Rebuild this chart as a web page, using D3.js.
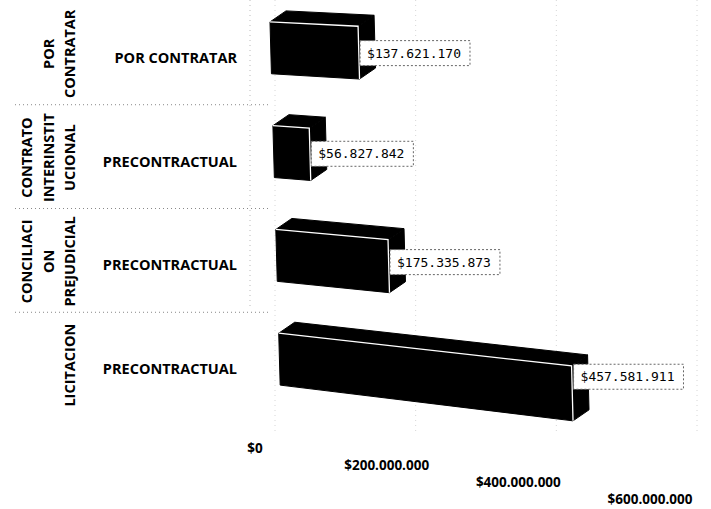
<!DOCTYPE html>
<html>
<head>
<meta charset="utf-8">
<script src="https://cdn.jsdelivr.net/npm/d3@7"></script>
<style>
body { margin: 0; background: #fff; }
text { font-family: "Open Sans", sans-serif; font-weight: bold; fill: #000; }
.val { font-family: "DejaVu Sans Mono", monospace; font-weight: normal; font-size: 13px; }
</style>
</head>
<body>
<div id="chart"></div>
<script>
// data
const groupLines = [
    ["POR", "CONTRATAR"],
    ["CONTRATO", "INTERINSTIT", "UCIONAL"],
    ["CONCILIACI", "ON", "PREJUDICIAL"],
    ["LICITACION"]
];
const categories = ["POR CONTRATAR", "PRECONTRACTUAL", "PRECONTRACTUAL", "PRECONTRACTUAL"];
const values = [137621170, 56827842, 175335873, 457581911];
const tickValues = [0, 200000000, 400000000, 600000000];

const w = 711,
      h = 509;

const svg = d3.select("#chart")
    .append("svg")
    .attr("width", w)
    .attr("height", h);

const y = d3.scaleBand()
    .domain(d3.range(values.length))
    .range([-30, 437])
    .padding(0.5);

const x = d3.scaleLinear().domain([0, 600000000]).range([0, 384]);
const xLabel = d3.scaleLinear().domain([0, 600000000]).range([255, 650]);
const xDrop = d3.scaleLinear().domain([0, 600000000]).range([0, 51]);
const xGrid = d3.scaleLinear().domain([0, 600000000]).range([275, 697]);

const fmt = d3.formatLocale({decimal: ",", thousands: ".", grouping: [3], currency: ["$", ""]})
    .format("$,.0f");

const depth = {dx: 16, dy: -11};

// rough perspective like the excel 3d bars
function proj(v, yy) {
    let px = x(v);
    return [270 + 0.028 * (yy - 22) + px, yy + px * (0.045 + 0.0002 * yy)];
}
function back(p) {
    return [p[0] + depth.dx, p[1] + depth.dy];
}

// faint grid
svg.append("g")
    .selectAll("line")
    .data(tickValues)
    .enter()
    .append("line")
    .attr("x1", d => xGrid(d))
    .attr("x2", d => xGrid(d))
    .attr("y1", 0)
    .attr("y2", 435)
    .style("stroke", "#d6d6d6")
    .style("stroke-dasharray", "1,4");

svg.append("line")
    .attr("x1", 250).attr("x2", 250)
    .attr("y1", 0).attr("y2", 310)
    .style("stroke", "#bbb")
    .style("stroke-dasharray", "1,4");

const gap = y.step() - y.bandwidth();
svg.append("g")
    .selectAll("line")
    .data(d3.range(1, values.length))
    .enter()
    .append("line")
    .attr("x1", 15)
    .attr("x2", 268)
    .attr("y1", d => y(d) - gap / 2 + 5)
    .attr("y2", d => y(d) - gap / 2 + 5)
    .style("stroke", "#888")
    .style("stroke-dasharray", "1,3");

// bars
const bars = svg.append("g")
    .selectAll("g")
    .data(values)
    .enter()
    .append("g");

bars.each(function(v, i) {
    let g = d3.select(this);
    let top = y(i),
        bot = y(i) + y.bandwidth();
    let a = proj(0, top), b = proj(v, top), c = proj(v, bot), d = proj(0, bot);

    g.append("polygon")
        .attr("points", [a, b, back(b), back(a)].join(" "))
        .style("fill", "#000").style("stroke", "#000");
    g.append("polygon")
        .attr("points", [b, back(b), back(c), c].join(" "))
        .style("fill", "#000").style("stroke", "#000");
    g.append("polygon")
        .attr("points", [a, b, c, d].join(" "))
        .style("fill", "#000").style("stroke", "#000");
    g.append("polyline")
        .attr("points", [a, b, c].join(" "))
        .style("fill", "none")
        .style("stroke", "#fff")
        .style("stroke-width", 1.3);

    // value label
    let lx = b[0] + 2,
        ly = y(i) + y.bandwidth() / 2 + x(v) * 0.06;
    let box = g.append("rect");
    let t = g.append("text")
        .attr("class", "val")
        .attr("x", lx + 7)
        .attr("y", ly)
        .attr("dy", "0.35em")
        .text(fmt(v));
    let tw = t.node().getComputedTextLength();
    box.attr("x", lx)
        .attr("y", ly - 12.5)
        .attr("width", tw + 16)
        .attr("height", 25)
        .style("fill", "#fff")
        .style("stroke", "#666")
        .style("stroke-dasharray", "2,2");
});

// category labels
svg.append("g")
    .selectAll("text")
    .data(categories)
    .enter()
    .append("text")
    .attr("x", 237)
    .attr("y", (d, i) => y(i) + y.bandwidth() / 2 + 10)
    .attr("dy", "0.35em")
    .attr("text-anchor", "end")
    .style("font-size", "14.5px")
    .text(d => d);

// group labels, rotated
const groups = svg.append("g")
    .selectAll("g")
    .data(groupLines)
    .enter()
    .append("g");

groups.each(function(lines, i) {
    let cy = y(i) + y.bandwidth() / 2 + 6;
    d3.select(this).selectAll("text")
        .data(lines)
        .enter()
        .append("text")
        .attr("transform", (d, j) => "translate(" + (70 - (lines.length - 1 - j) * 21.5) + "," + cy + ") rotate(-90)")
        .attr("dy", "0.35em")
        .attr("text-anchor", "middle")
        .style("font-size", "14.5px")
        .text(d => d);
});

// value axis, stepped down along the floor
const axis = d3.axisBottom(xLabel)
    .tickValues(tickValues)
    .tickSize(0)
    .tickFormat(fmt);

const axisGroup = svg.append("g")
    .attr("transform", "translate(0,448)")
    .call(axis);

axisGroup.select(".domain").remove();
axisGroup.selectAll(".tick")
    .attr("transform", d => "translate(" + xLabel(d) + "," + xDrop(d) + ")");
axisGroup.selectAll("text")
    .attr("y", 0)
    .attr("dy", "0.35em")
    .style("font-size", "13.5px");
</script>
</body>
</html>
